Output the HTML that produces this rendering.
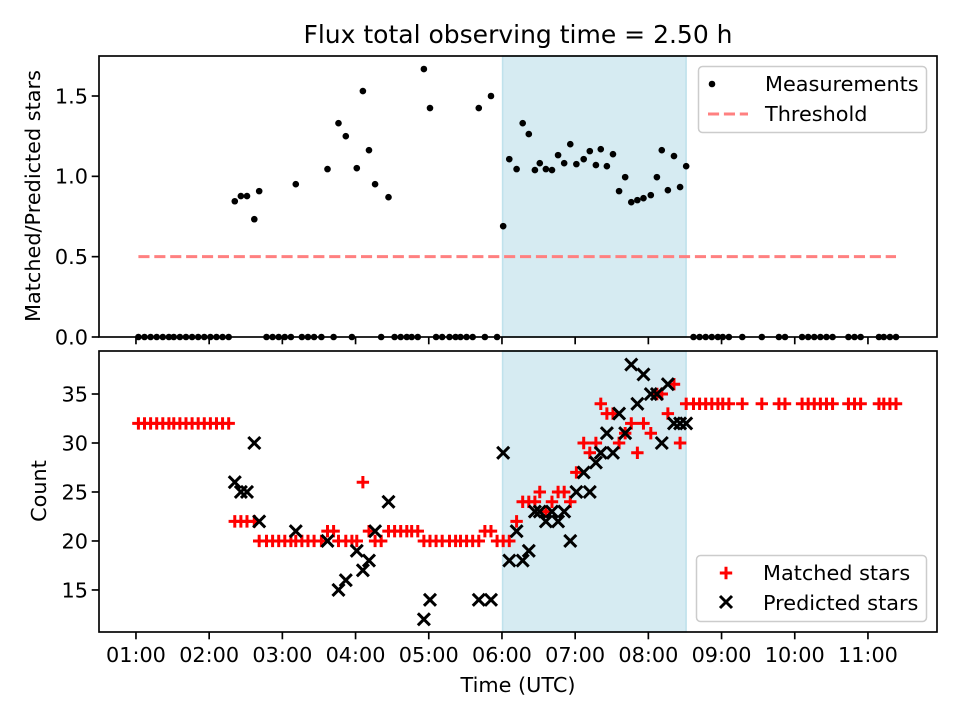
<!DOCTYPE html>
<html><head><meta charset="utf-8"><style>
html,body{margin:0;padding:0;background:#fff;}
svg{display:block;font-family:"DejaVu Sans","Liberation Sans",sans-serif;}
</style></head><body>
<svg id="fig" width="960" height="720" viewBox="0 0 960 720" xmlns="http://www.w3.org/2000/svg">
<rect width="960" height="720" fill="#fff"/>
<text x="518" y="43" font-size="25" text-anchor="middle" fill="#000">Flux total observing time = 2.50 h</text>
<g id="top"></g>
<g id="bot"></g>
</svg>
<script>
// minutes since 00:00 UTC
const times = [62,67,72,77,82,87,91,96,101,106,111,116,121,126,131,136,
141,146,151,157,161,167,172,177,182,187,191,196,201,206,212,217,222,226,232,237,
241,246,251,256,261,267,272,277,282,286,291,296,301,306,311,317,322,326,331,336,
341,346,351,356,361,366,372,377,382,387,391,396,401,406,411,416,421,427,432,437,
441,446,451,456,461,466,471,476,482,487,491,496,501,506,511,
517,522,527,532,537,541,546,557,573,587,592,606,611,616,621,626,631,644,649,654,669,673,678,683];
const ratio = [0,0,0,0,0,0,0,0,0,0,0,0,0,0,0,0,
0.845,0.877,0.877,0.733,0.908,0,0,0,0,0,0.951,0,0,0,0,1.045,0,1.331,1.25,0,
1.051,1.531,1.163,0.951,0,0.870,0,0,0,0,0,1.668,1.425,0,0,0,0,0,0,0,
1.425,0,1.5,0,0.69,1.107,1.045,1.331,1.263,1.039,1.082,1.045,1.039,1.132,1.082,1.2,1.076,1.107,1.157,1.07,
1.169,1.063,1.138,0.908,0.995,0.839,0.852,0.864,0.883,0.995,1.163,0.914,1.126,0.933,1.063,
0,0,0,0,0,0,0,0,0,0,0,0,0,0,0,0,0,0,0,0,0,0,0,0];
const matched = [32,32,32,32,32,32,32,32,32,32,32,32,32,32,32,32,
22,22,22,22,20,20,20,20,20,20,20,20,20,20,20,21,21,20,20,20,
20,26,21,20,20,21,21,21,21,21,21,20,20,20,20,20,20,20,20,20,
20,21,21,20,20,20,22,24,24,24,25,23,24,25,25,24,27,30,29,30,
34,33,33,30,31,32,29,32,31,35,35,33,36,30,34,
34,34,34,34,34,34,34,34,34,34,34,34,34,34,34,34,34,34,34,34,34,34,34,34];
const predicted = [null,null,null,null,null,null,null,null,null,null,null,null,null,null,null,null,
26,25,25,30,22,null,null,null,null,null,21,null,null,null,null,20,null,15,16,null,
19,17,18,21,null,24,null,null,null,null,null,12,14,null,null,null,null,null,null,null,
14,null,14,null,29,18,21,18,19,23,23,22,23,22,23,20,25,27,25,28,
29,31,29,33,31,38,34,37,35,35,30,36,32,32,32,
null,null,null,null,null,null,null,null,null,null,null,null,null,null,null,null,null,null,null,null,null,null,null,null];
const threshold = [0.5];
const shadeSpan = [360.5, 511];
const xTicks = [60,120,180,240,300,360,420,480,540,600,660];
const xTickLabels = ["01:00","02:00","03:00","04:00","05:00","06:00","07:00","08:00","09:00","10:00","11:00"];
const topTicks = [0,0.5,1.0,1.5];
const topTickLabels = ["0.0","0.5","1.0","1.5"];
const botTicks = [15,20,25,30,35];
const botTickLabels = ["15","20","25","30","35"];

const NS="http://www.w3.org/2000/svg";
const L=99,R=937;
const X0=29.7,X1=716.6;
const xs=m=>L+(m-X0)/(X1-X0)*(R-L);
const T={top:56,bot:337,y0:0,y1:1.749};
const B={top:351,bot:632,y0:10.71,y1:39.39};
const ys=(P,v)=>P.bot-(v-P.y0)/(P.y1-P.y0)*(P.bot-P.top);
function mk(tag,attrs,parent){const e=document.createElementNS(NS,tag);for(const k in attrs)e.setAttribute(k,attrs[k]);parent.appendChild(e);return e;}

function panel(g,P,yt,ytl,showX){
  const s=mk('rect',{x:xs(shadeSpan[0]),y:P.top,width:xs(shadeSpan[1])-xs(shadeSpan[0]),height:P.bot-P.top,fill:'rgba(173,216,230,0.5)',stroke:'rgba(173,216,230,0.7)','stroke-width':1.5},g);
  
  
  yt.forEach((v,i)=>{
    const y=ys(P,v);
    const t=mk('line',{x1:L-7.3,x2:L,y1:y,y2:y,stroke:'#000','stroke-width':1.67},g);
    
    
    const tx=mk('text',{x:L-11,y:y+7.3,'font-size':20.8,'text-anchor':'end',fill:'#000'},g);
    tx.textContent=ytl[i];
    
    
  });
  xTicks.forEach((m,i)=>{
    const x=xs(m);
    const t=mk('line',{x1:x,x2:x,y1:P.bot,y2:P.bot+7.3,stroke:'#000','stroke-width':1.67},g);
    
    
    if(showX){
      const tx=mk('text',{x:x,y:P.bot+30,'font-size':20.8,'text-anchor':'middle',fill:'#000'},g);
      tx.textContent=xTickLabels[i];
      
      
    }
  });
}
const gt=document.getElementById('top'), gb=document.getElementById('bot');
panel(gt,T,topTicks,topTickLabels,false);
panel(gb,B,botTicks,botTickLabels,true);

const th=mk('line',{x1:xs(times[0]),x2:xs(times[times.length-1]),y1:ys(T,threshold[0]),y2:ys(T,threshold[0]),stroke:'#ff8080','stroke-width':3,'stroke-dasharray':'11.1 4.8'},gt);


times.forEach((m,i)=>{
  const c=mk('circle',{cx:xs(m),cy:ys(T,ratio[i]),r:3.3,fill:'#000'},gt);
  
  
});
function plus(g,x,y,col){return mk('path',{d:`M${x-6.2} ${y}H${x+6.2}M${x} ${y-6.2}V${y+6.2}`,stroke:col,'stroke-width':3,fill:'none'},g);}
function cross(g,x,y,col){const d=6;return mk('path',{d:`M${x-d} ${y-d}L${x+d} ${y+d}M${x-d} ${y+d}L${x+d} ${y-d}`,stroke:col,'stroke-width':3,fill:'none'},g);}
times.forEach((m,i)=>{
  const p=plus(gb,xs(m),ys(B,matched[i]),'#ff0000');
  
  
});
times.forEach((m,i)=>{
  if(predicted[i]===null)return;
  const c=cross(gb,xs(m),ys(B,predicted[i]),'#000');
  
  
});
[[gt,T],[gb,B]].forEach(([g,P])=>{
  const f=mk('rect',{x:L,y:P.top,width:R-L,height:P.bot-P.top,fill:'none',stroke:'#000','stroke-width':1.67},g);
  
  
});
</script>
<script>
const fig=document.getElementById('fig');
fig.insertAdjacentHTML('beforeend',`
<text x="0" y="0" font-size="20.8" text-anchor="middle" transform="translate(40,196) rotate(-90)">Matched/Predicted stars</text>
<text x="0" y="0" font-size="20.8" text-anchor="middle" transform="translate(46,491) rotate(-90)">Count</text>
<text x="518" y="692" font-size="20.8" text-anchor="middle">Time (UTC)</text>
<g>
<rect x="698.5" y="66.5" width="228" height="66" rx="4" fill="rgba(255,255,255,0.8)" stroke="#ccc" stroke-width="1.5"/>
<circle cx="712" cy="84" r="3.3" fill="#000"/>
<text x="765" y="91" font-size="20.8">Measurements</text>
<line x1="708" x2="748" y1="114" y2="114" stroke="#ff8080" stroke-width="3" stroke-dasharray="11.1 4.8"/>
<text x="765" y="121" font-size="20.8">Threshold</text>
</g>
<g>
<rect x="696.5" y="555.5" width="230" height="66" rx="4" fill="rgba(255,255,255,0.8)" stroke="#ccc" stroke-width="1.5"/>
<path d="M719.8 573H732.2M726 566.8V579.2" stroke="#ff0000" stroke-width="3"/>
<text x="763" y="580" font-size="20.8">Matched stars</text>
<path d="M720 596L732 608M720 608L732 596" stroke="#000" stroke-width="3"/>
<text x="763" y="610" font-size="20.8">Predicted stars</text>
</g>`);
</script>
</body></html>
